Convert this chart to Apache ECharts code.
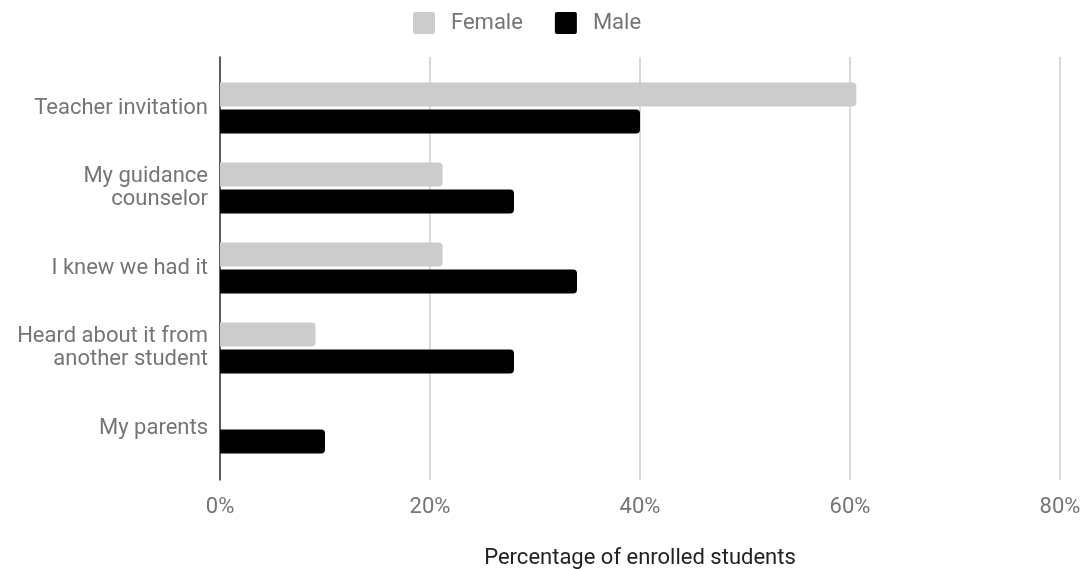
<!DOCTYPE html>
<html>
<head>
<meta charset="utf-8">
<script src="https://cdn.jsdelivr.net/npm/echarts@6/dist/echarts.min.js"></script>
<style>
  html, body { margin: 0; padding: 0; background: #fff; }
  #chart { width: 1088px; height: 569px; }
</style>
</head>
<body>
<div id="chart"></div>
<script>
// How enrolled students heard about the course, by gender (percent)
const categories = [
  'Teacher invitation',
  'My guidance\ncounselor',
  'I knew we had it',
  'Heard about it from\nanother student',
  'My parents'
];
const femaleValues = [60.6, 21.2, 21.2, 9.1, 0];
const maleValues = [40, 28, 34, 28, 10];
const seriesNames = ['Female', 'Male'];
const axisTitle = 'Percentage of enrolled students';

const FONT = 'Roboto, "Noto Sans", sans-serif';
const TEXT_GRAY = '#757575';
const FS = 22;
// square legend swatch with slightly rounded corners
const SWATCH = 'path://M2,0H20Q22,0,22,2V20Q22,22,20,22H2Q0,22,0,20V2Q0,0,2,0Z';

const chart = echarts.init(document.getElementById('chart'));
chart.setOption({
  animation: false,
  textStyle: { fontFamily: FONT },
  legend: {
    left: 413,
    top: 12,
    padding: 0,
    itemWidth: 22,
    itemHeight: 22,
    itemGap: 32,
    icon: SWATCH,
    data: seriesNames,
    textStyle: { color: TEXT_GRAY, fontSize: FS, fontFamily: FONT, padding: [0, 0, 0, 11] }
  },
  grid: [
    // bars
    { left: 220, right: 28, top: 68, height: 400, containLabel: false, outerBoundsMode: 'none' },
    // frame: gridlines and axes, slightly taller than the bar band
    { left: 220, right: 28, top: 57, height: 423, containLabel: false, outerBoundsMode: 'none' }
  ],
  xAxis: [
    {
      gridIndex: 0, type: 'value', min: 0, max: 80, interval: 20,
      axisLine: { show: false }, axisTick: { show: false },
      axisLabel: { show: false }, splitLine: { show: false }
    },
    {
      gridIndex: 1, type: 'value', min: 0, max: 80, interval: 20,
      name: axisTitle, nameLocation: 'middle', nameGap: 67,
      nameTextStyle: { color: '#222', fontSize: FS, fontFamily: FONT },
      axisLine: { show: false }, axisTick: { show: false },
      axisLabel: { color: TEXT_GRAY, fontSize: FS, fontFamily: FONT, margin: 16,
        formatter: v => v + '%' },
      splitLine: { show: true, lineStyle: { color: '#cccccc', width: 1.5 } }
    }
  ],
  yAxis: [
    {
      gridIndex: 0, type: 'category', data: categories, inverse: true,
      axisLine: { show: false }, axisTick: { show: false },
      axisLabel: { color: TEXT_GRAY, fontSize: FS, fontFamily: FONT, margin: 12,
        lineHeight: 23, align: 'right' },
      splitLine: { show: false }
    },
    {
      gridIndex: 1, type: 'value', min: 0, max: 1,
      axisLine: { show: true, onZero: false, lineStyle: { color: '#333', width: 1.5 } },
      axisTick: { show: false }, axisLabel: { show: false }, splitLine: { show: false }
    }
  ],
  series: [
    {
      name: seriesNames[0], type: 'bar', xAxisIndex: 0, yAxisIndex: 0,
      data: femaleValues, barWidth: 24, barGap: '12%',
      itemStyle: { color: '#cccccc', borderRadius: [0, 4, 4, 0] }
    },
    {
      name: seriesNames[1], type: 'bar', xAxisIndex: 0, yAxisIndex: 0,
      data: maleValues, barWidth: 24, barGap: '12%',
      itemStyle: { color: '#000000', borderRadius: [0, 4, 4, 0] }
    }
  ]
});
</script>
</body>
</html>
